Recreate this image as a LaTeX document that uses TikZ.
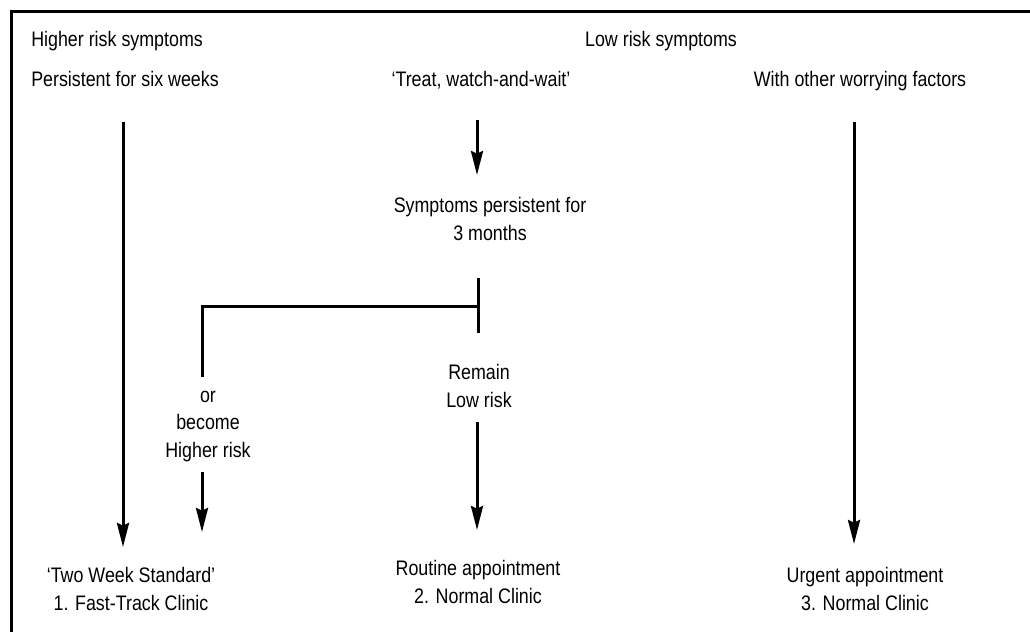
\documentclass[tikz,border=0pt]{standalone}
\usepackage{fontspec}
\setmainfont[FakeStretch=0.85]{Liberation Sans}
\usetikzlibrary{arrows.meta}
\tikzset{
  lbl/.style={font=\fontsize{15.75}{20.5}\selectfont, inner sep=0.75pt, align=center},
  ln/.style={line width=2.25pt},
  arr/.style={line width=2.25pt, -{Stealth[length=18pt, width=9pt, inset=2pt]}}
}
\begin{document}
\begin{tikzpicture}[x=0.75pt,y=0.75pt,yscale=-1,xscale=1]
\useasboundingbox (0,0) rectangle (1030,631);

%Frame
\draw [line width=2.25pt] (11,640) -- (11,12) -- (1040,12) ;

% Text Node
\node (hrs) at (30,47) [lbl, anchor=base west] {Higher risk symptoms};
% Text Node
\node (pers) at (30,87) [lbl, anchor=base west] {Persistent for six weeks};
% Text Node
\node (lrs) at (661,47) [lbl, anchor=base] {Low risk symptoms};
% Text Node
\node (tww) at (481,87) [lbl, anchor=base] {`Treat, watch-and-wait'};
% Text Node
\node (wof) at (860,87) [lbl, anchor=base] {With other worrying factors};
% Text Node
\node (spm) at (490,240) [lbl, anchor=base] {Symptoms persistent for\\3 months};
% Text Node
\node (rem) at (479,407) [lbl, anchor=base] {Remain\\Low risk};
% Text Node
\node (bhr) at (208,457) [lbl, anchor=base] {or\\become\\Higher risk};
% Text Node
\node (tws) at (131,610) [lbl, anchor=base] {`Two Week Standard'\\1. Fast-Track Clinic};
% Text Node
\node (rout) at (478,603) [lbl, anchor=base] {Routine appointment\\2. Normal Clinic};
% Text Node
\node (urg) at (865,610) [lbl, anchor=base] {Urgent appointment\\3. Normal Clinic};

%Arrow ends
\coordinate (ftop) at (123,122);
\coordinate (fbot) at (123,547);
\coordinate (htop) at (202,472);
\coordinate (hbot) at (202,532);
\coordinate (ttop) at (477,120);
\coordinate (tbot) at (477,175);
\coordinate (jtop) at (478,278);
\coordinate (jbot) at (478,333);
\coordinate (jmid) at (478,306);
\coordinate (jleft) at (202,306);
\coordinate (lend) at (202,377);
\coordinate (rtop) at (477,422);
\coordinate (rbot) at (477,530);
\coordinate (wtop) at (854,122);
\coordinate (wbot) at (854,544);

%Straight Lines
\draw [arr] (ftop) -- (fbot) ;
\draw [arr] (htop) -- (hbot) ;
\draw [arr] (ttop) -- (tbot) ;
\draw [ln] (jtop) -- (jbot) ;
\draw [ln] (jmid) -- (jleft) -- (lend) ;
\draw [arr] (rtop) -- (rbot) ;
\draw [arr] (wtop) -- (wbot) ;
\end{tikzpicture}
\end{document}
